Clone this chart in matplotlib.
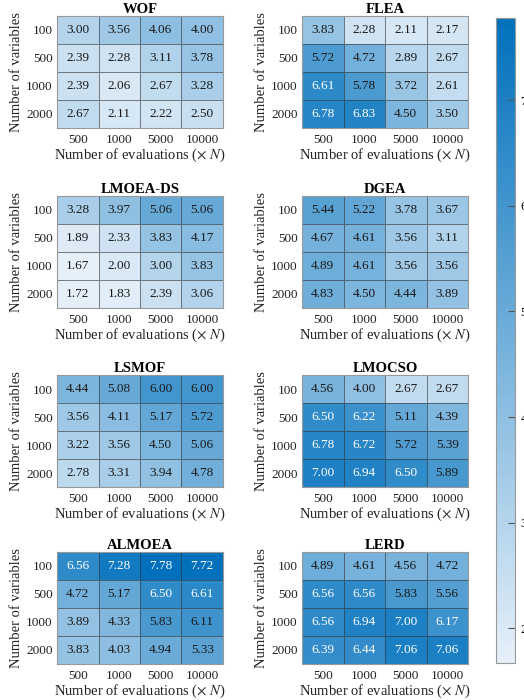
import numpy as np
import matplotlib
matplotlib.use("Agg")
import matplotlib.pyplot as plt
from matplotlib.colors import LinearSegmentedColormap, Normalize

plt.rcParams['font.family'] = ['Liberation Serif', 'DejaVu Serif']
plt.rcParams['mathtext.fontset'] = 'stix'

evaluations = ["500", "1000", "5000", "10000"]
variables = ["100", "500", "1000", "2000"]

wof = [[3.00, 3.56, 4.06, 4.00],
       [2.39, 2.28, 3.11, 3.78],
       [2.39, 2.06, 2.67, 3.28],
       [2.67, 2.11, 2.22, 2.50]]
flea = [[3.83, 2.28, 2.11, 2.17],
        [5.72, 4.72, 2.89, 2.67],
        [6.61, 5.78, 3.72, 2.61],
        [6.78, 6.83, 4.50, 3.50]]
lmoea_ds = [[3.28, 3.97, 5.06, 5.06],
            [1.89, 2.33, 3.83, 4.17],
            [1.67, 2.00, 3.00, 3.83],
            [1.72, 1.83, 2.39, 3.06]]
dgea = [[5.44, 5.22, 3.78, 3.67],
        [4.67, 4.61, 3.56, 3.11],
        [4.89, 4.61, 3.56, 3.56],
        [4.83, 4.50, 4.44, 3.89]]
lsmof = [[4.44, 5.08, 6.00, 6.00],
         [3.56, 4.11, 5.17, 5.72],
         [3.22, 3.56, 4.50, 5.06],
         [2.78, 3.31, 3.94, 4.78]]
lmocso = [[4.56, 4.00, 2.67, 2.67],
          [6.50, 6.22, 5.11, 4.39],
          [6.78, 6.72, 5.72, 5.39],
          [7.00, 6.94, 6.50, 5.89]]
almoea = [[6.56, 7.28, 7.78, 7.72],
          [4.72, 5.17, 6.50, 6.61],
          [3.89, 4.33, 5.83, 6.11],
          [3.83, 4.03, 4.94, 5.33]]
lerd = [[4.89, 4.61, 4.56, 4.72],
        [6.56, 6.56, 5.83, 5.56],
        [6.56, 6.94, 7.00, 6.17],
        [6.39, 6.44, 7.06, 7.06]]

titles = ["WOF", "FLEA", "LMOEA-DS", "DGEA", "LSMOF", "LMOCSO", "ALMOEA", "LERD"]
tables = [wof, flea, lmoea_ds, dgea, lsmof, lmocso, almoea, lerd]

W, H = 524, 700
fig = plt.figure(figsize=(W / 100, H / 100), dpi=100)

cmap = LinearSegmentedColormap.from_list("blue_ramp", ["#e6f0f9", "#0070bc"])
all_vals = np.array(tables)
norm = Normalize(vmin=all_vals.min(), vmax=all_vals.max())

col_x = [57, 302]
row_top = [16, 196, 375, 552]
ax_w, ax_h = 166, 112

mesh = None
for k, (title, data) in enumerate(zip(titles, tables)):
    r, c = divmod(k, 2)
    left = col_x[c] / W
    bottom = 1 - (row_top[r] + ax_h) / H
    ax = fig.add_axes([left, bottom, ax_w / W, ax_h / H])
    arr = np.array(data)
    mesh = ax.pcolormesh(arr, cmap=cmap, norm=norm,
                         edgecolors=(0.2, 0.2, 0.2, 0.6), linewidth=0.7)
    ax.set_xlim(0, 4)
    ax.set_ylim(4, 0)
    for i in range(4):
        for j in range(4):
            v = arr[i, j]
            ax.text(j + 0.5, i + 0.5, f"{v:.2f}", ha="center", va="center",
                    fontsize=9.5, color="white" if v > 6.15 else "#1a1a1a")
    ax.set_xticks(np.arange(4) + 0.5)
    ax.set_xticklabels(evaluations, fontsize=9.5)
    ax.set_yticks(np.arange(4) + 0.5)
    ax.set_yticklabels(variables, fontsize=9.5)
    ax.tick_params(axis="x", length=0, pad=4, colors="#222222")
    ax.tick_params(axis="y", length=0, pad=3, colors="#222222")
    for s in ax.spines.values():
        s.set_color("#999999")
        s.set_linewidth(0.8)
    ax.set_title(title, fontsize=10.5, fontweight="bold", pad=2)
    ax.set_xlabel(r"Number of evaluations ($\times$ $N$)", fontsize=10.5, labelpad=0.5, color="#222222")
    ax.set_ylabel("Number of variables", fontsize=10.5, labelpad=2, color="#222222")

cax = fig.add_axes([496 / W, 1 - 663 / H, 19 / W, (663 - 18) / H])
cb = fig.colorbar(mesh, cax=cax)
cb.set_ticks([2, 3, 4, 5, 6, 7])
cb.ax.tick_params(direction="in", length=5, width=0.8, color="#555555",
                  labelsize=9.5, pad=4)
cb.outline.set_edgecolor("#999999")
cb.outline.set_linewidth(0.8)

fig.savefig("out.png", dpi=100)
